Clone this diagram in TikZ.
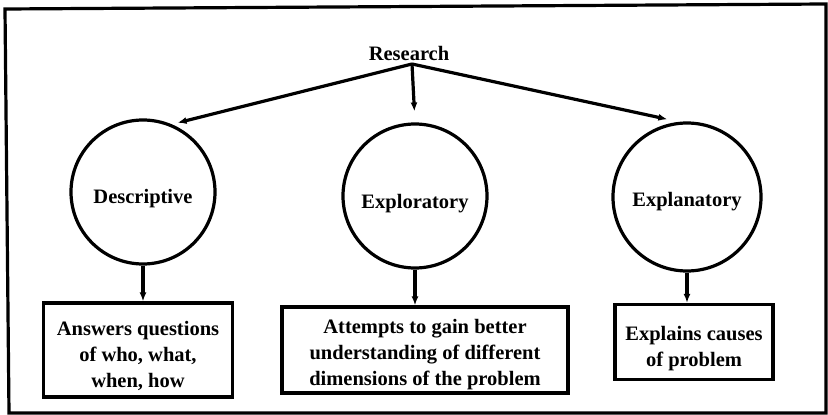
\documentclass[tikz,border=0pt]{standalone}
\usepackage{fontspec}
\setmainfont{Liberation Serif}
\usetikzlibrary{arrows.meta}

\newcommand{\sunk}[2]{\raisebox{-#1}[\height][\depth]{#2}}

\tikzset{
  kind/.style={draw, circle, line width=3.2pt, minimum size=144pt, inner sep=0pt,
    font=\fontsize{20.5}{24}\selectfont\bfseries},
  note/.style={draw, line width=3.2pt, inner sep=0pt},
  notetext/.style={align=center, inner sep=0pt,
    font=\fontsize{20.5}{26}\selectfont\bfseries},
  flow/.style={line width=3.2pt, -{Latex[length=9pt,width=7pt]}}
}

\begin{document}
\begin{tikzpicture}[x=1pt, y=-1pt]
			%%%%% START %%%%%
			\useasboundingbox (0,0) rectangle (828,415);
			
			\draw[line width=3.2pt] (5,9) -- (826,4) -- (826,413) -- (9,413) -- cycle;
			
			\node[font=\fontsize{20.5}{24}\selectfont\bfseries] (res) at (409,53) {Research};
			\coordinate (fork) at (412,64);
			
			\node[kind] (des) at (143,192) {\sunk{7pt}{Descriptive}};
			\node[kind] (exo) at (415,196) {\sunk{8pt}{Exploratory}};
			\node[kind, minimum size=148pt] (exa) at (687,197) {\sunk{5pt}{Explanatory}};
			
			\draw[flow, shorten >=6pt] (fork) -- (des.67);
			\draw[flow, shorten >=11pt] (fork) -- (exo.north);
			\draw[flow, shorten >=12pt] (fork) -- (exa.96);
			
			\node[note, minimum width=189pt, minimum height=94pt] (ans) at (138,350) {};
			\node[notetext] (ansT) at (138,356) {Answers questions\\of who, what,\\when, how};
			\node[note, minimum width=286pt, minimum height=86pt] (att) at (425,350) {};
			\node[notetext] (attT) at (425,355) {Attempts to gain better\\understanding of different\\dimensions of the problem};
			\node[note, minimum width=158pt, minimum height=75pt] (exp) at (694,342) {};
			\node[notetext] (expT) at (694,349) {Explains causes\\of problem};
			
			\draw[flow] (des.south) -- (des.south |- ans.north);
			\draw[flow] (exo.south) -- (exo.south |- att.north);
			\draw[flow] (exa.south) -- (exa.south |- exp.north);
			
			%%%%% END %%%%%
\end{tikzpicture}
\end{document}
